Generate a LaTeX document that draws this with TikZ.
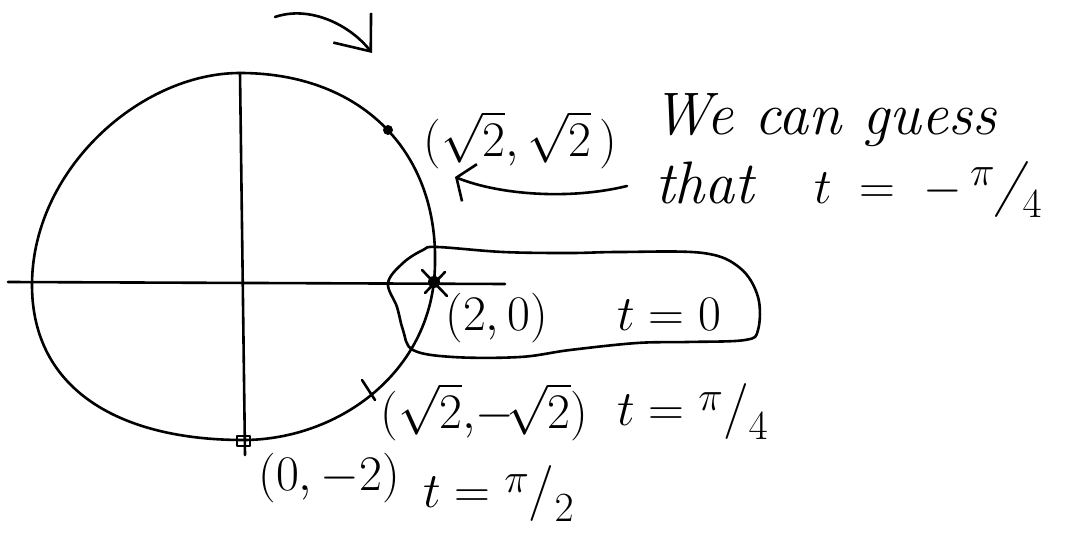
\documentclass[tikz,border=0pt]{standalone}
\usepackage{amsmath,amssymb}
\usepackage{tikz}
\usetikzlibrary{positioning,arrows.meta}
\newcommand{\inkfrac}[2]{\text{\raisebox{.3em}{\fontsize{20}{22}\selectfont$#1$}\fontsize{28}{30}\selectfont/\raisebox{-.25em}{\fontsize{20}{22}\selectfont$#2$}}}

\begin{document}
\begin{tikzpicture}[
  x=0.5pt, y=-0.5pt,
  node distance=6mm and 9mm,
  inkline/.style={line width=1.3pt, black, line cap=round, line join=round},
  inklabel/.style={inner sep=0pt, anchor=west, font=\fontsize{26}{30}\selectfont},
  inknote/.style={inklabel, font=\fontsize{30}{34}\selectfont\itshape},
  inkarrow/.style={inkline, -{Straight Barb[length=15pt,width=24pt,line width=1.3pt]}},
  inkarrowwide/.style={inkline, -{Straight Barb[length=7pt,width=20pt,line width=1.3pt]}}
]
\useasboundingbox (0,0) rectangle (1068,550);
% axes
\draw[inkline] (8,282) -- (505,284);
\draw[inkline] (240,73) -- (245,455);
% the curve
\draw[inkline] (240,73) .. controls (360,73) and (437,150) .. (435,262)
  .. controls (435,370) and (340,440) .. (243,440)
  .. controls (120,440) and (32,390) .. (32,285)
  .. controls (32,170) and (140,73) .. (240,73) -- cycle;
% marks on the curve
\fill (388,130) circle[radius=5];
\draw[inkline] (362,380) -- (375,400);
\draw[inkline] (237,436) rectangle (250,446);
\fill (434,282) circle[radius=6];
\draw[inkline] (422,270) -- (447,296);
\draw[inkline] (425,293) -- (445,272);
% labels
\node[inklabel] (ptop) at (423,140) {$(\sqrt{2},\sqrt{2}\,)$};
\node[inknote] (guess) at (652,120) {We can guess};
\node[inknote] (that) at (655,190) {that\quad $t \;=\; -\,\inkfrac{\pi}{4}$};
\node[inklabel] (pzero) at (445,318) {$(2,0)$};
\node[inklabel, right=12mm of pzero, yshift=2pt] (tzero) {$t = 0$};
\node[inklabel, font=\fontsize{24}{28}\selectfont] (pquart) at (380,412) {$(\sqrt{2},\!{-}\!\sqrt{2})$};
\node[inklabel, right=5mm of pquart] (tquart) {$t = \inkfrac{\pi}{4}$};
\node[inklabel] (pbot) at (258,478) {$(0,{-}2)$};
\node[inklabel, right=4mm of pbot, yshift=-8pt] (thalf) {$t = \inkfrac{\pi}{2}$};
% loop round t = 0
\draw[inkline] plot[smooth cycle, tension=0.6] coordinates {
  (388,283) (403,263) (423,250) (437,247) (503,252) (570,253) (620,252)
  (703,253) (740,268) (758,297) (758,330) (745,340) (687,342) (637,343)
  (570,350) (520,357) (453,357) (413,350) (403,330) (397,307)};
% arrows
\coordinate (turnfrom) at (275,17);
\coordinate (turnto) at (372,53);
\draw[inkarrow] (turnfrom) .. controls (310,5) and (350,25) .. (turnto);
\coordinate (guessto) at (455,177);
\draw[inkarrowwide] ([xshift=-14pt,yshift=2pt]that.west) .. controls (570,200) and (500,195) .. (guessto);
\end{tikzpicture}
\end{document}
